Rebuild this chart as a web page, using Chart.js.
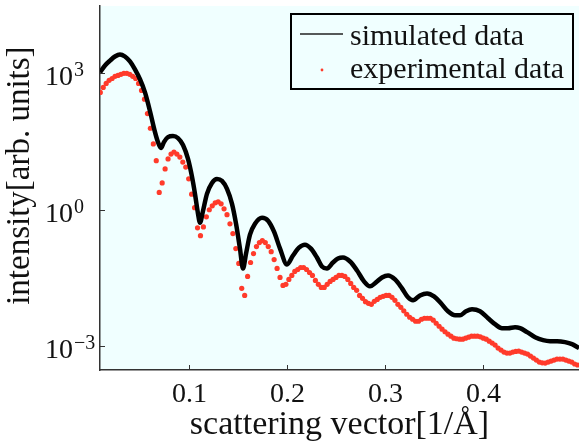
<!DOCTYPE html>
<html>
<head>
<meta charset="utf-8">
<script src="https://cdn.jsdelivr.net/npm/chart.js@4.4.1/dist/chart.umd.min.js"></script>
<style>
  html, body { margin: 0; padding: 0; background: #fff; }
  #wrap { width: 579px; height: 445px; }
</style>
</head>
<body>
<div id="wrap"><canvas id="myChart" width="579" height="445"></canvas></div>
<script>
const SERIF = "'Liberation Serif', 'Times New Roman', serif";
const BG = "#f0ffff";

const seriesNames = ["simulated data", "experimental data"];
const xTicks = [0.1, 0.2, 0.3, 0.4];
const yTicks = [1e-3, 1, 1e3];

// simulated curve
const qSim = [0.0097, 0.0148, 0.0199, 0.0249, 0.0300, 0.0351, 0.0402, 0.0453, 0.0504, 0.0555,
  0.0606, 0.0657, 0.0687, 0.0718, 0.0748, 0.0789, 0.0840, 0.0891, 0.0942, 0.0993,
  0.1034, 0.1064, 0.1095, 0.1115, 0.1146, 0.1186, 0.1237, 0.1288, 0.1339, 0.1390,
  0.1441, 0.1482, 0.1522, 0.1553, 0.1584, 0.1624, 0.1675, 0.1747, 0.1808, 0.1869,
  0.1930, 0.2001, 0.2062, 0.2123, 0.2184, 0.2245, 0.2306, 0.2357, 0.2408, 0.2469,
  0.2520, 0.2571, 0.2643, 0.2714, 0.2785, 0.2846, 0.2907, 0.2968, 0.3030, 0.3101,
  0.3172, 0.3233, 0.3284, 0.3355, 0.3427, 0.3498, 0.3569, 0.3640, 0.3712, 0.3763,
  0.3824, 0.3885, 0.3966, 0.4048, 0.4119, 0.4190, 0.4251, 0.4323, 0.4374, 0.4445,
  0.4527, 0.4608, 0.4679, 0.4751, 0.4832, 0.4903, 0.4975];
const iSim = [1.05e3, 1.49e3, 1.9e3, 2.34e3, 2.6e3, 2.34e3, 1.82e3, 1.22e3, 7.4e2, 3.8e2,
  1.47e2, 51, 30.8, 22.7, 30.8, 39.6, 41.6, 37.6, 26.5, 13.1,
  5.27, 2.24, 0.818, 0.519, 0.951, 2.24, 3.9, 4.77, 4.31, 2.88,
  1.35, 0.494, 0.14, 0.0512, 0.109, 0.284, 0.494, 0.668, 0.575, 0.33,
  0.14, 0.0626, 0.0985, 0.147, 0.171, 0.14, 0.0891, 0.0566, 0.0512, 0.0692,
  0.0847, 0.0891, 0.0728, 0.0463, 0.0266, 0.0207, 0.0253, 0.0325, 0.036, 0.0294,
  0.0187, 0.0119, 0.0102, 0.0131, 0.0145, 0.0125, 0.00877, 0.00586, 0.00479, 0.00479,
  0.00586, 0.00648, 0.00586, 0.00412, 0.00305, 0.00249, 0.00249, 0.00262, 0.00249, 0.00204,
  0.00158, 0.00136, 0.00129, 0.00129, 0.00123, 0.00111, 0.000908];

// measured points
const qExp = [0.010, 0.013, 0.016, 0.019, 0.022, 0.025, 0.028, 0.031, 0.034, 0.037,
  0.040, 0.043, 0.046, 0.049, 0.052, 0.055, 0.058, 0.061, 0.064, 0.067,
  0.070, 0.073, 0.076, 0.079, 0.082, 0.085, 0.088, 0.091, 0.094, 0.097,
  0.100, 0.103, 0.106, 0.109, 0.112, 0.115, 0.118, 0.121, 0.124, 0.127,
  0.130, 0.133, 0.136, 0.139, 0.142, 0.145, 0.148, 0.151, 0.154, 0.157,
  0.160, 0.163, 0.166, 0.169, 0.172, 0.175, 0.178, 0.181, 0.184, 0.187,
  0.190, 0.193, 0.196, 0.199, 0.202, 0.205, 0.208, 0.211, 0.214, 0.217,
  0.220, 0.223, 0.226, 0.229, 0.232, 0.235, 0.238, 0.241, 0.244, 0.247,
  0.250, 0.253, 0.256, 0.259, 0.262, 0.265, 0.268, 0.271, 0.274, 0.277,
  0.280, 0.283, 0.286, 0.289, 0.292, 0.295, 0.298, 0.301, 0.304, 0.307,
  0.310, 0.313, 0.316, 0.319, 0.322, 0.325, 0.328, 0.331, 0.334, 0.337,
  0.340, 0.343, 0.346, 0.349, 0.352, 0.355, 0.358, 0.361, 0.364, 0.367,
  0.370, 0.373, 0.376, 0.379, 0.382, 0.385, 0.388, 0.391, 0.394, 0.397,
  0.400, 0.403, 0.406, 0.409, 0.412, 0.415, 0.418, 0.421, 0.424, 0.427,
  0.430, 0.433, 0.436, 0.439, 0.442, 0.445, 0.448, 0.451, 0.454, 0.457,
  0.460, 0.463, 0.466, 0.469, 0.472, 0.475, 0.478, 0.481, 0.484, 0.487,
  0.490, 0.493, 0.496];
const iExp = [3.8e2, 4.9e2, 6.0e2, 7.0e2, 7.7e2, 8.6e2, 9.0e2, 9.5e2, 1.0e3, 1.0e3,
  9.5e2, 8.6e2, 7.7e2, 6.0e2, 4.2e2, 2.7e2, 1.3e2, 62, 28, 12,
  2.4, 3.9, 7.9, 13.1, 16.8, 18.6, 16.8, 14.4, 11.2, 8.7,
  4.8, 2.2, 1.11, 0.40, 0.27, 0.42, 0.70, 1.0, 1.22, 1.42,
  1.50, 1.35, 1.05, 0.78, 0.49, 0.30, 0.140, 0.066, 0.0187, 0.0131,
  0.0342, 0.0692, 0.109, 0.155, 0.190, 0.210, 0.190, 0.155, 0.120, 0.0805,
  0.0512, 0.0325, 0.0217, 0.0229, 0.0294, 0.0360, 0.0440, 0.0486, 0.0538, 0.0538,
  0.0486, 0.0418, 0.0360, 0.0279, 0.0229, 0.0196, 0.0196, 0.0229, 0.0266, 0.0294,
  0.0325, 0.0360, 0.0360, 0.0342, 0.0294, 0.0240, 0.0196, 0.0169, 0.0131, 0.0113,
  0.00955, 0.00877, 0.00834, 0.00970, 0.0107, 0.0119, 0.0125, 0.0131, 0.0131, 0.0119,
  0.0102, 0.00834, 0.00717, 0.00600, 0.00504, 0.00433, 0.00392, 0.00354, 0.00354, 0.00392,
  0.00412, 0.00412, 0.00412, 0.00373, 0.00320, 0.00275, 0.00237, 0.00208, 0.00184, 0.00166,
  0.00150, 0.00146, 0.00143, 0.00143, 0.00150, 0.00158, 0.00166, 0.00166, 0.00166, 0.00161,
  0.00150, 0.00143, 0.00129, 0.00117, 0.00106, 0.000908, 0.000822, 0.000743, 0.000706, 0.000706,
  0.000743, 0.000770, 0.000781, 0.000743, 0.000706, 0.000671, 0.000607, 0.000549, 0.000497, 0.000449,
  0.000432, 0.000427, 0.000449, 0.000472, 0.000497, 0.000522, 0.000522, 0.000522, 0.000497, 0.000472,
  0.000449, 0.000406, 0.000386];

const xMin = 0.0097, xMax = 0.4974;
const yMin = Math.pow(10, -3.48), yMax = Math.pow(10, 4.48);

const ctx = document.getElementById("myChart");

// background, inward ticks, tick labels, boxed legend
const framePlugin = {
  id: "frame",
  beforeDraw(chart) {
    const { ctx, chartArea: a } = chart;
    ctx.save();
    ctx.fillStyle = BG;
    ctx.fillRect(a.left, a.top, a.right - a.left, a.bottom - a.top);
    ctx.restore();
  },
  afterDraw(chart) {
    const { ctx, chartArea: a, scales } = chart;
    ctx.save();
    ctx.strokeStyle = "#333";
    ctx.lineWidth = 1;
    ctx.fillStyle = "#111";
    scales.x.ticks.forEach((t) => {
      const px = Math.round(scales.x.getPixelForValue(t.value)) + 0.5;
      ctx.beginPath();
      ctx.moveTo(px, a.bottom);
      ctx.lineTo(px, a.bottom - 5);
      ctx.stroke();
      ctx.font = "28px " + SERIF;
      ctx.textAlign = "center";
      ctx.textBaseline = "alphabetic";
      ctx.fillText(t.value.toFixed(1), px, a.bottom + 32);
    });
    scales.y.ticks.forEach((t) => {
      const py = Math.round(scales.y.getPixelForValue(t.value)) + 0.5;
      ctx.beginPath();
      ctx.moveTo(a.left, py);
      ctx.lineTo(a.left + 5, py);
      ctx.stroke();
      const e = Math.round(Math.log10(t.value));
      ctx.textBaseline = "alphabetic";
      ctx.textAlign = "right";
      ctx.font = "28px " + SERIF;
      ctx.fillText("10", a.left - 27, py + 11);
      ctx.textAlign = "left";
      ctx.font = "20px " + SERIF;
      ctx.fillText(e < 0 ? "\u2212" + Math.abs(e) : String(e), a.left - 26, py + 2);
    });

    // legend
    const lx = a.right - 288, ly = a.top + 8, lw = 282, lh = 75;
    ctx.lineWidth = 2;
    ctx.strokeStyle = "#000";
    ctx.strokeRect(lx, ly, lw, lh);
    ctx.strokeStyle = "#222";
    ctx.lineWidth = 1.5;
    ctx.beginPath();
    ctx.moveTo(lx + 9, ly + 20);
    ctx.lineTo(lx + 52, ly + 20);
    ctx.stroke();
    ctx.fillStyle = chart.data.datasets[1].backgroundColor;
    ctx.beginPath();
    ctx.arc(lx + 31, ly + 56, 1.4, 0, Math.PI * 2);
    ctx.fill();
    ctx.fillStyle = "#111";
    ctx.font = "30px " + SERIF;
    ctx.textAlign = "left";
    ctx.fillText(chart.data.datasets[0].label, lx + 59, ly + 31);
    ctx.fillText(chart.data.datasets[1].label, lx + 59, ly + 64);
    ctx.restore();
  },
};

new Chart(ctx, {
  type: "scatter",
  data: {
    datasets: [
      {
        label: seriesNames[0],
        data: qSim.map((q, i) => ({ x: q, y: iSim[i] })),
        showLine: true,
        borderColor: "#000",
        borderWidth: 4.5,
        pointRadius: 0,
        cubicInterpolationMode: "monotone",
      },
      {
        label: seriesNames[1],
        data: qExp.map((q, i) => ({ x: q, y: iExp[i] })),
        backgroundColor: "#ff3b2b",
        borderWidth: 0,
        pointRadius: 2.6,
      },
    ],
  },
  options: {
    responsive: false,
    animation: false,
    layout: { autoPadding: false, padding: { top: 6, right: 0, left: 0, bottom: 0 } },
    plugins: {
      legend: { display: false },
      tooltip: { enabled: false },
    },
    scales: {
      x: {
        type: "linear",
        min: xMin,
        max: xMax,
        afterBuildTicks: (s) => {
          s.ticks = xTicks.map((v) => ({ value: v }));
        },
        ticks: { display: false },
        grid: { display: false, drawTicks: false },
        border: { display: true, color: "#333", width: 1.5 },
        title: {
          display: true,
          text: "scattering vector[1/Å]",
          font: { family: SERIF, size: 34 },
          color: "#111",
          padding: { top: 0, bottom: 0 },
        },
        afterFit: (s) => {
          s.height = 75;
        },
      },
      y: {
        type: "logarithmic",
        min: yMin,
        max: yMax,
        afterBuildTicks: (s) => {
          s.ticks = yTicks.map((v) => ({ value: v }));
        },
        ticks: { display: false },
        grid: { display: false, drawTicks: false },
        border: { display: true, color: "#333", width: 1.5 },
        title: {
          display: true,
          text: "\u00a0\u00a0\u00a0intensity[arb. units]",
          font: { family: SERIF, size: 33 },
          color: "#111",
          padding: { top: 1, bottom: 0 },
        },
        afterFit: (s) => {
          s.width = 100;
        },
      },
    },
  },
  plugins: [framePlugin],
});
</script>
</body>
</html>
